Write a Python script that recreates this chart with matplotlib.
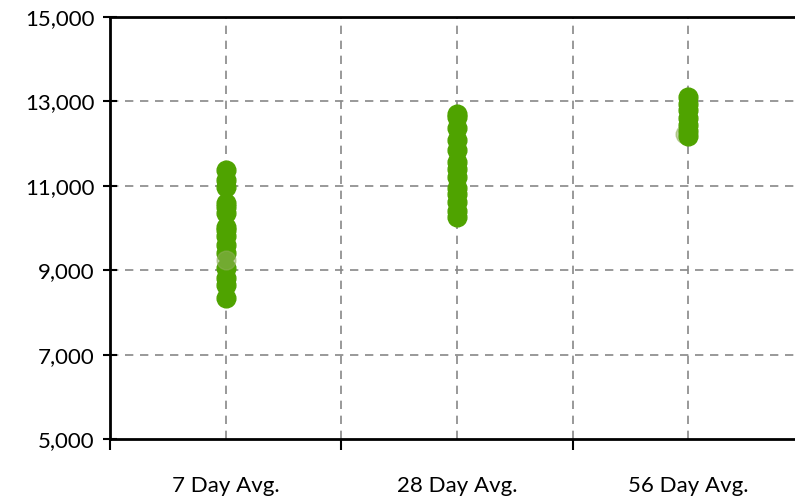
import matplotlib
matplotlib.use("Agg")
import matplotlib.pyplot as plt
from matplotlib.ticker import FuncFormatter, FixedLocator

plt.rcParams['font.family'] = ['Lato', 'DejaVu Sans']

categories = ["7 Day Avg.", "28 Day Avg.", "56 Day Avg."]

day7 = [11370, 11140, 10970, 10590, 10500, 10360, 10020, 9950, 9800,
        9600, 9400, 9050, 8820, 8650, 8340]
day28 = [12700, 12630, 12370, 12090, 11850, 11560, 11400, 11210, 10950,
         10800, 10620, 10400, 10260]
day56 = [13100, 12950, 12800, 12600, 12450, 12300, 12180]
# paler points: one drawn over the 7 day group, one mostly hidden behind the 56 day group
pale_x = [1, 2.988]
pale_y = [9240, 12220]
pale_z = [4, 2]

fig = plt.figure(figsize=(7.95, 4.99), dpi=100)
ax = fig.add_axes([110/795, 60/499, 685/795, 422/499])

green = '#4fa300'
for i, vals in enumerate([day7, day28, day56]):
    ax.plot([i + 1]*len(vals), vals, 'o', color=green, ms=13.5, mec=green, zorder=3)
for x, y, z in zip(pale_x, pale_y, pale_z):
    ax.plot(x, y, 'o', color='#8fb05a', ms=13.5, alpha=0.55, zorder=z)

ax.set_xlim(0.5, 3.462)
ax.set_ylim(5000, 15000)
ax.set_yticks(range(5000, 15001, 2000))
ax.yaxis.set_major_formatter(FuncFormatter(lambda v, p: f"{int(v):,}"))

ax.set_xticks([1, 2, 3])
ax.set_xticklabels(categories)
ax.xaxis.set_minor_locator(FixedLocator([0.5, 1.5, 2.5]))
ax.tick_params(axis='x', which='major', length=0, pad=27, labelsize=16)
ax.tick_params(axis='x', which='minor', length=8, width=1.5, direction='out')
ax.tick_params(axis='y', length=10, width=1.5, direction='inout', pad=6, labelsize=16)

for s in ['left', 'bottom', 'top']:
    ax.spines[s].set_linewidth(2)
ax.spines['right'].set_visible(False)

grid_kw = dict(color='#888888', lw=1.2, ls=(0, (5, 4)), zorder=1)
for y in range(7000, 14000, 2000):
    ax.axhline(y, **grid_kw)
for x in [1, 1.5, 2, 2.5, 3]:
    ax.axvline(x, **grid_kw)

fig.savefig("out.png", dpi=100)
